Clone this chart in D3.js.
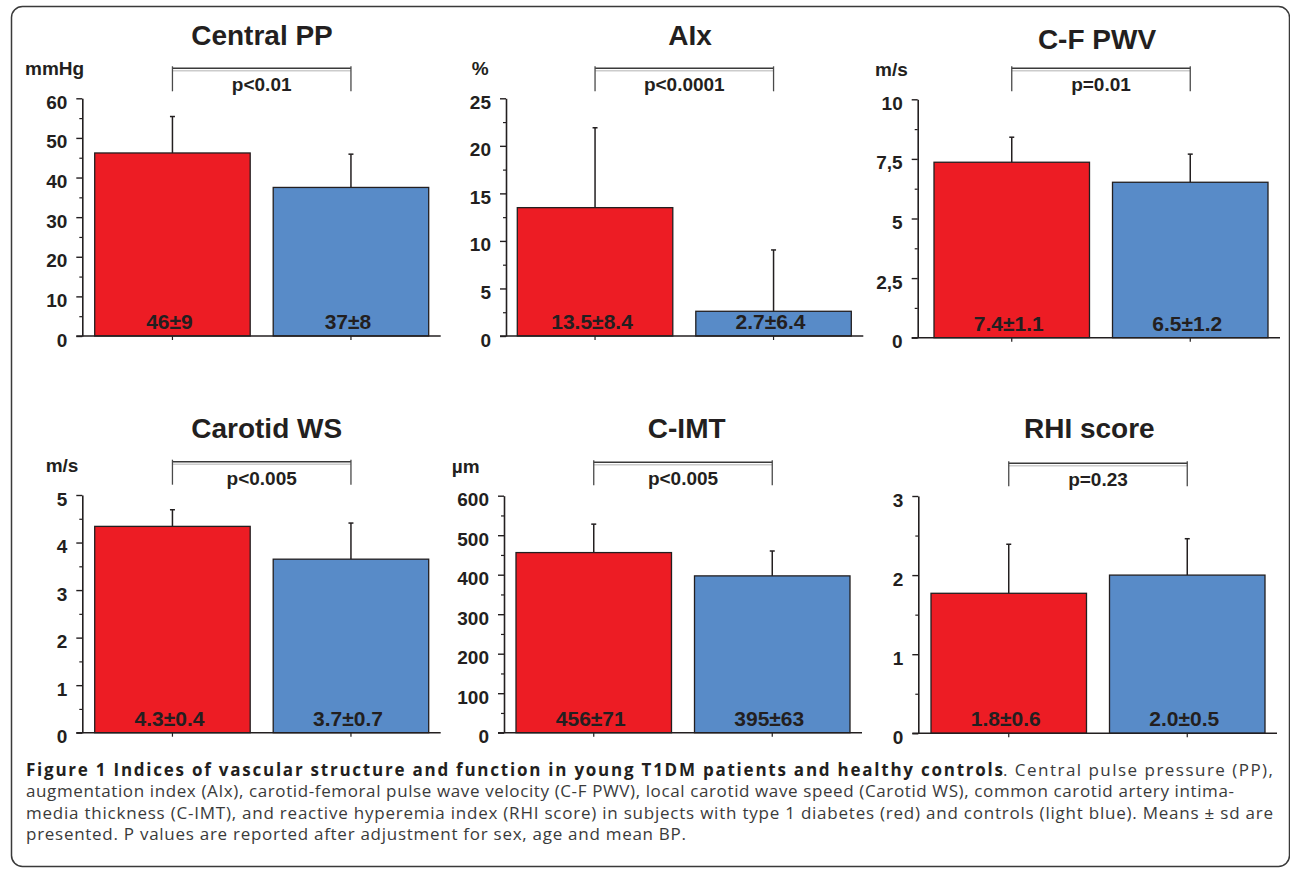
<!DOCTYPE html>
<html><head><meta charset="utf-8">
<script src="https://cdn.jsdelivr.net/npm/d3@7"></script>
<style>body{margin:0;background:#fff;} svg{display:block;}</style>
</head><body><svg id="c" width="1290" height="869"></svg>
<script>
// ---------- data ----------
const panelTitles = ["Central PP", "AIx", "C-F PWV", "Carotid WS", "C-IMT", "RHI score"];
const units = ["mmHg", "%", "m/s", "m/s", "µm", ""];
const groups = ["T1DM", "Control"];
const means = [[46.2, 37.5], [13.5, 2.6], [7.36, 6.52], [4.34, 3.65], [456, 397], [1.77, 2.0]];
const sds = [[9.2, 8.4], [8.4, 6.45], [1.05, 1.18], [0.35, 0.76], [72, 63], [0.62, 0.46]];
const valueLabels = [["46±9", "37±8"], ["13.5±8.4", "2.7±6.4"], ["7.4±1.1", "6.5±1.2"],
                     ["4.3±0.4", "3.7±0.7"], ["456±71", "395±63"], ["1.8±0.6", "2.0±0.5"]];
const pLabels = ["p<0.01", "p<0.0001", "p=0.01", "p<0.005", "p<0.005", "p=0.23"];
const yMax = [60, 25, 10, 5, 600, 3];
const tickValues = [[0, 10, 20, 30, 40, 50, 60], [0, 5, 10, 15, 20, 25], [0, 2.5, 5, 7.5, 10],
                    [0, 1, 2, 3, 4, 5], [0, 100, 200, 300, 400, 500, 600], [0, 1, 2, 3]];
const tickLabels = [["0", "10", "20", "30", "40", "50", "60"], ["0", "5", "10", "15", "20", "25"],
                    ["0", "2,5", "5", "7,5", "10"], ["0", "1", "2", "3", "4", "5"],
                    ["0", "100", "200", "300", "400", "500", "600"], ["0", "1", "2", "3"]];
const minorTicks = [[5, 15, 25, 35, 45, 55], [2.5, 7.5, 12.5, 17.5, 22.5], [1.25, 3.75, 6.25, 8.75],
                    [0.5, 1.5, 2.5, 3.5, 4.5], [50, 150, 250, 350, 450, 550], [0.5, 1.5, 2.5]];
const captionBold = "Figure 1 Indices of vascular structure and function in young T1DM patients and healthy controls";
const captionLines = [
  ". Central pulse pressure (PP),",
  "augmentation index (AIx), carotid-femoral pulse wave velocity (C-F PWV), local carotid wave speed (Carotid WS), common carotid artery intima-",
  "media thickness (C-IMT), and reactive hyperemia index (RHI score) in subjects with type 1 diabetes (red) and controls (light blue). Means ± sd are",
  "presented. P values are reported after adjustment for sex, age and mean BP."
];

// ---------- layout ----------
const layout = [
  {ax: 82.3,  bx: 94.7,  top: 98.3,  bot: 336,   ux: 25,    tx: 262,    ty: 45,    by: 68.3},
  {ax: 506,   bx: 517.3, top: 98.3,  bot: 336,   ux: 471.7, tx: 690,    ty: 44.5,  by: 68.3},
  {ax: 917.7, bx: 934,   top: 99.3,  bot: 337.7, ux: 875,   tx: 1097,   ty: 49,    by: 68.3},
  {ax: 82.3,  bx: 94.7,  top: 495,   bot: 732.7, ux: 45.7,  tx: 266.7,  ty: 438,   by: 461.7},
  {ax: 504,   bx: 516,   top: 495.7, bot: 732.7, ux: 451.7, tx: 686.7,  ty: 437.5, by: 462.3},
  {ax: 918.3, bx: 931,   top: 496,   bot: 733.3, ux: 0,     tx: 1089.3, ty: 437.7, by: 463.3}
];
const colors = {T1DM: "#ed1c24", Control: "#588bc8"};
const ink = "#231f20";
const font = "'Liberation Sans', Arial, Helvetica, sans-serif";

const svg = d3.select("#c");

// frame
svg.append("rect").attr("x", 11.5).attr("y", 6.5).attr("width", 1278).attr("height", 860)
  .attr("rx", 11).attr("fill", "none").attr("stroke", "#3a3a3a").attr("stroke-width", 1.5);

panelTitles.forEach((title, i) => {
  const L = layout[i];
  const g = svg.append("g");
  const y = d3.scaleLinear().domain([0, yMax[i]]).range([L.bot, L.top]);
  const x = d3.scaleBand().domain(groups).range([L.bx, L.bx + 334]).paddingInner(0.1289).paddingOuter(0);
  const bw = x.bandwidth();

  g.append("text").attr("x", L.tx).attr("y", L.ty).attr("text-anchor", "middle")
    .attr("font-family", font).attr("font-weight", "bold").attr("font-size", 28).attr("fill", ink)
    .text(title);
  if (units[i]) {
    g.append("text").attr("x", L.ux).attr("y", L.top - 23)
      .attr("font-family", font).attr("font-weight", "bold").attr("font-size", 19).attr("fill", ink)
      .text(units[i]);
  }

  groups.forEach((grp, j) => {
    const m = means[i][j], s = sds[i][j];
    const cx = x(grp) + bw / 2;
    g.append("line").attr("x1", cx).attr("x2", cx).attr("y1", y(m)).attr("y2", y(m + s))
      .attr("stroke", ink).attr("stroke-width", 1.5);
    g.append("line").attr("x1", cx - 2.5).attr("x2", cx + 2.5).attr("y1", y(m + s)).attr("y2", y(m + s))
      .attr("stroke", ink).attr("stroke-width", 1.5);
    g.append("rect").attr("x", x(grp)).attr("y", y(m)).attr("width", bw).attr("height", y(0) - y(m))
      .attr("fill", colors[grp]).attr("stroke", ink).attr("stroke-width", 1.3);
    g.append("text").attr("x", cx - 3).attr("y", L.bot - 7).attr("text-anchor", "middle")
      .attr("font-family", font).attr("font-weight", "bold").attr("font-size", 21).attr("fill", ink)
      .text(valueLabels[i][j]);
  });

  const minorAxis = g.append("g").attr("transform", `translate(${L.ax},0)`)
    .call(d3.axisLeft(y).tickValues(minorTicks[i]).tickSize(3).tickFormat(""));
  minorAxis.select(".domain").remove();
  minorAxis.selectAll("line").attr("stroke", ink).attr("stroke-width", 1.2);

  const yAxis = g.append("g").attr("transform", `translate(${L.ax},0)`)
    .call(d3.axisLeft(y).tickValues(tickValues[i]).tickFormat((d, k) => tickLabels[i][k])
      .tickSize(6).tickPadding(9).tickSizeOuter(0));
  yAxis.select(".domain").attr("stroke", ink).attr("stroke-width", 1.6);
  yAxis.selectAll(".tick line").attr("stroke", ink).attr("stroke-width", 1.4);
  yAxis.selectAll(".tick text").attr("dy", "0.53em").attr("fill", ink)
    .attr("font-family", font).attr("font-weight", "bold").attr("font-size", 19);

  g.append("line").attr("x1", L.ax - 6).attr("x2", L.bx + 346).attr("y1", y(0)).attr("y2", y(0))
    .attr("stroke", ink).attr("stroke-width", 1.6);
  const xAxis = g.append("g").attr("transform", `translate(0,${y(0)})`)
    .call(d3.axisBottom(x).tickSize(4).tickFormat(""));
  xAxis.select(".domain").remove();
  xAxis.selectAll("line").attr("stroke", ink).attr("stroke-width", 1.2);

  const x1 = x(groups[0]) + bw / 2, x2 = x(groups[1]) + bw / 2;
  g.append("line").attr("x1", x1).attr("x2", x2).attr("y1", L.by + 2.5).attr("y2", L.by + 2.5)
    .attr("stroke", "#cccccc").attr("stroke-width", 1.5);
  g.append("line").attr("x1", x1).attr("x2", x2).attr("y1", L.by).attr("y2", L.by)
    .attr("stroke", "#3a3a3a").attr("stroke-width", 1.4);
  [x1, x2].forEach(xx => {
    g.append("line").attr("x1", xx).attr("x2", xx).attr("y1", L.by - 2).attr("y2", L.by + 23)
      .attr("stroke", "#4a4a4a").attr("stroke-width", 1.3);
  });
  g.append("text").attr("x", (x1 + x2) / 2).attr("y", L.by + 23).attr("text-anchor", "middle")
    .attr("font-family", font).attr("font-weight", "bold").attr("font-size", 19).attr("fill", ink)
    .text(pLabels[i]);
});

// ---------- caption ----------
const capFont = "'Open Sans', 'Noto Sans', sans-serif";
const capX = 26;
const capY = [775.5, 797, 818.5, 840];
const capSize = 17;
const capTxt = (x, y, txt, len, bold) => {
  const t = svg.append("text").attr("x", x).attr("y", y).attr("font-family", capFont)
    .attr("font-size", capSize).attr("fill", bold ? ink : "#3a3a3a")
    .attr("font-weight", bold ? "bold" : "normal").text(txt);
  if (len) t.attr("textLength", len).attr("lengthAdjust", "spacing");
  return t;
};
capTxt(capX, capY[0], captionBold, 1003 - capX, true);
capTxt(1003, capY[0], captionLines[0], 1273 - 1003, false);
capTxt(capX, capY[1], captionLines[1], 1234 - capX, false);
capTxt(capX, capY[2], captionLines[2], 1273 - capX, false);
capTxt(capX, capY[3], captionLines[3], 686 - capX, false);
</script>
</body></html>
